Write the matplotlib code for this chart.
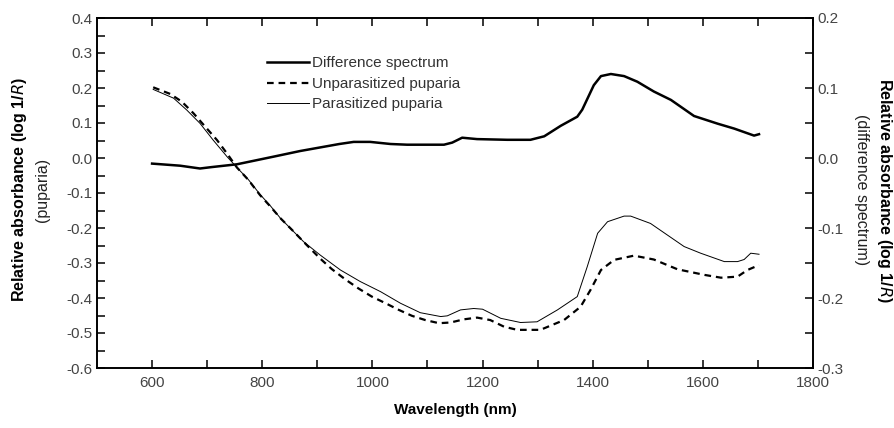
import matplotlib
matplotlib.use("Agg")
import matplotlib.pyplot as plt
from matplotlib.ticker import MultipleLocator, FixedLocator, FormatStrFormatter
from matplotlib.lines import Line2D

# ---- data ----
diff_nm = [600, 651, 687, 708, 754, 821, 869, 940, 966, 996, 1033, 1063, 1130, 1145, 1163,
           1190, 1245, 1287, 1312, 1342, 1372, 1381, 1402, 1415, 1433, 1457, 1481, 1511,
           1542, 1584, 1627, 1657, 1693, 1702]
diff_val = [-0.008, -0.011, -0.015, -0.013, -0.009, 0.002, 0.010, 0.020, 0.023, 0.023, 0.020,
            0.019, 0.019, 0.022, 0.029, 0.027, 0.026, 0.026, 0.031, 0.046, 0.059, 0.069,
            0.104, 0.117, 0.120, 0.117, 0.109, 0.095, 0.083, 0.060, 0.049, 0.042, 0.032, 0.034]

unpar_nm = [602, 633, 654, 675, 699, 718, 736, 754, 775, 796, 815, 833, 857, 881, 905, 926,
            951, 975, 999, 1024, 1048, 1072, 1096, 1121, 1142, 1166, 1190, 1214, 1239, 1263,
            1305, 1348, 1378, 1396, 1415, 1439, 1475, 1511, 1554, 1603, 1633, 1663, 1681, 1702]
unpar_val = [0.202, 0.183, 0.161, 0.128, 0.085, 0.051, 0.013, -0.027, -0.063, -0.106, -0.139,
             -0.172, -0.210, -0.249, -0.287, -0.317, -0.347, -0.373, -0.396, -0.415, -0.434,
             -0.451, -0.463, -0.472, -0.470, -0.461, -0.456, -0.463, -0.482, -0.491, -0.491,
             -0.463, -0.425, -0.377, -0.320, -0.291, -0.279, -0.290, -0.318, -0.334, -0.342,
             -0.339, -0.320, -0.306]

par_nm = [602, 639, 663, 687, 711, 736, 754, 775, 796, 815, 833, 875, 905, 942, 978, 1015,
          1051, 1087, 1124, 1136, 1160, 1184, 1200, 1233, 1269, 1299, 1336, 1372, 1390, 1409,
          1427, 1457, 1469, 1505, 1566, 1596, 1639, 1663, 1675, 1687, 1702]
par_val = [0.196, 0.171, 0.137, 0.099, 0.051, 0.004, -0.027, -0.062, -0.104, -0.137, -0.172,
           -0.239, -0.277, -0.320, -0.353, -0.382, -0.415, -0.442, -0.453, -0.451, -0.434,
           -0.430, -0.432, -0.458, -0.470, -0.468, -0.434, -0.396, -0.311, -0.215, -0.182,
           -0.166, -0.166, -0.187, -0.253, -0.272, -0.296, -0.296, -0.290, -0.272, -0.275]

labels = ["Difference spectrum", "Unparasitized puparia", "Parasitized puparia"]

plt.rcParams['font.family'] = ['Liberation Sans', 'DejaVu Sans']
tickfont = ['Liberation Sans Narrow', 'Liberation Sans', 'DejaVu Sans']

fig = plt.figure(figsize=(8.95, 4.28), dpi=100)
ax = fig.add_axes([97/895, 1-368/428, (813-97)/895, (368-18)/428])
ax2 = ax.twinx()

ax.plot(unpar_nm, unpar_val, color='black', lw=1.6, ls=(0, (3, 2.2)))
ax.plot(par_nm, par_val, color='black', lw=0.7)
ax2.plot(diff_nm, diff_val, color='black', lw=1.8)

ax.set_xlim(500, 1800)
ax.set_ylim(-0.6, 0.4)
ax2.set_ylim(-0.3, 0.2)

ax.xaxis.set_major_locator(FixedLocator([600, 800, 1000, 1200, 1400, 1600, 1800]))
ax.xaxis.set_minor_locator(FixedLocator([700, 900, 1100, 1300, 1500, 1700]))
ax.yaxis.set_major_locator(MultipleLocator(0.1))
ax.yaxis.set_minor_locator(MultipleLocator(0.05))
ax.yaxis.set_major_formatter(FormatStrFormatter('%.1f'))
ax2.yaxis.set_major_locator(MultipleLocator(0.1))
ax2.yaxis.set_minor_locator(MultipleLocator(0.05))
ax2.yaxis.set_major_formatter(FormatStrFormatter('%.1f'))

for a in (ax, ax2):
    for s in a.spines.values():
        s.set_linewidth(1.2)
ax.tick_params(axis='both', which='both', direction='in', length=5.5, width=1.1,
               top=True, right=False, labelcolor='#444444', labelsize=11)
ax.tick_params(axis='x', pad=6)
ax2.tick_params(axis='y', which='both', direction='in', length=5.5, width=1.1,
                labelcolor='#444444', labelsize=11)
for lab in ax.get_xticklabels() + ax.get_yticklabels() + ax2.get_yticklabels():
    lab.set_family(tickfont)

ax.set_xlabel("Wavelength (nm)", fontsize=11, fontweight='bold', labelpad=9)

fig.text(20/895, 1-190/428, r"Relative absorbance (log 1/$\it{R}$)", rotation=90,
         ha='center', va='center', fontsize=11.5, fontweight='bold')
fig.text(43/895, 1-190/428, "(puparia)", rotation=90, ha='center', va='center',
         fontsize=11.5, color='#222222')
fig.text(885/895, 1-190/428, r"Relative absorbance (log 1/$\it{R}$)", rotation=270,
         ha='center', va='center', fontsize=11.5, fontweight='bold')
fig.text(862/895, 1-190/428, "(difference spectrum)", rotation=270, ha='center',
         va='center', fontsize=11.5, color='#222222')

handles = [Line2D([], [], color='black', lw=1.8),
           Line2D([], [], color='black', lw=1.6, ls=(0, (3, 2.2))),
           Line2D([], [], color='black', lw=0.7)]
leg = ax.legend(handles, labels, loc='upper left', bbox_to_anchor=(0.237, 0.89),
                frameon=False, fontsize=11, handlelength=2.8, handletextpad=0.15,
                labelspacing=0.42, borderpad=0, borderaxespad=0)
for t in leg.get_texts():
    t.set_color('#333333')

fig.savefig("out.png", dpi=100)
